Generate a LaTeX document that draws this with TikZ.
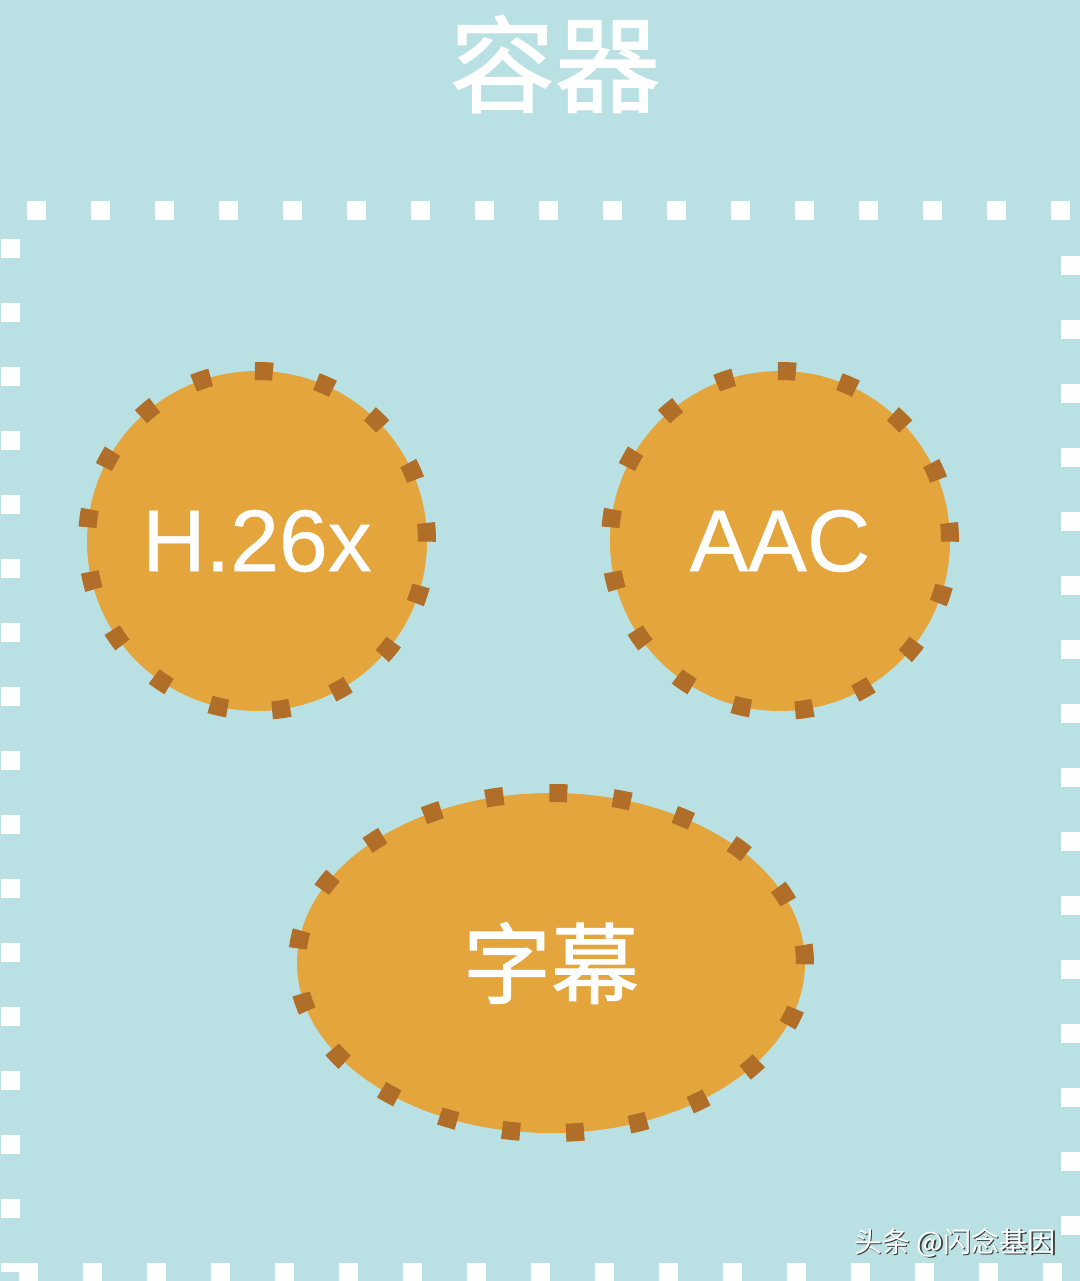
\documentclass[tikz,border=0pt]{standalone}
\usepackage{fontspec}
\usepackage{xcolor}
\usepackage{tikz}
\usetikzlibrary{shapes.geometric}
\setmainfont{Liberation Sans}
\newfontfamily\labelfont{Liberation Sans}[FakeBold=0.5]
\newfontfamily\cjk{Noto Sans CJK SC}
\newfontfamily\cjkheavy{Noto Sans CJK SC}[FakeBold=1.2]
\definecolor{bgteal}{HTML}{B9E1E4}
\definecolor{fillorange}{HTML}{E3A53C}
\definecolor{dotbrown}{HTML}{B06E29}

\begin{document}
\begin{tikzpicture}[
	codec/.style={circle, fill=fillorange, draw=dotbrown, line width=0.18cm,
		dash pattern={on 0.18cm off 0.448cm}, minimum size=3.40cm, inner sep=0pt,
		text=white, font=\labelfont\fontsize{25}{25}\selectfont},
	subs/.style={ellipse, fill=fillorange, draw=dotbrown, line width=0.18cm,
		dash pattern={on 0.18cm off 0.46cm}, minimum width=5.08cm, minimum height=3.40cm,
		inner sep=0pt, text=white, font=\cjkheavy\fontsize{25}{25}\selectfont}]
	\fill[bgteal] (0,0) rectangle (10.8,12.81);
	\useasboundingbox (0,0) rectangle (10.8,12.81);
	\node(title) at (5.55,12.17) {\cjkheavy\fontsize{30}{30}\selectfont\color{white}容器};
	\draw[white, line width=0.19cm, dash pattern={on 0.19cm off 0.45cm}, dash phase=0.1cm]
		(0.10,0.09) rectangle (10.70,10.70);
	\node[codec](h26x) at (2.57,7.40) {H.26x};
	\node[codec](aac) at (7.80,7.40) {AAC};
	\node[subs](zimu) at (5.51,3.18) {字幕};
	\node(mark) at (9.565,0.375) {\cjk\fontsize{8}{8}\selectfont\color{black!75}头条 @闪念基因};
	\node at (9.55,0.385) {\cjk\fontsize{8}{8}\selectfont\color{white}头条 @闪念基因};
\end{tikzpicture}
\end{document}
